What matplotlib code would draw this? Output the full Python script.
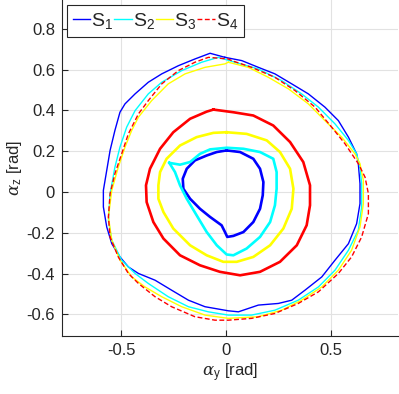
import numpy as np
from matplotlib import pyplot as plt

# ---- datos (alpha_y, alpha_z en rad) ----
# curvas externas
s1_ext_x = [-0.005, -0.076, -0.148, -0.227, -0.306, -0.37, -0.433, -0.481, -0.505, -0.529, -0.552, -0.568, -0.584,
            -0.584, -0.568, -0.544, -0.505, -0.465, -0.417, -0.338, -0.259, -0.179, -0.1, 0.011, 0.059, 0.154,
            0.249, 0.313, 0.376, 0.456, 0.519, 0.583, 0.622, 0.638, 0.638, 0.630, 0.622, 0.583, 0.535, 0.471,
            0.392, 0.313, 0.233, 0.154, 0.075, -0.005]
s1_ext_y = [0.66, 0.680, 0.652, 0.619, 0.579, 0.538, 0.481, 0.432, 0.391, 0.302, 0.204, 0.106, 0.008,
            -0.073, -0.171, -0.253, -0.318, -0.367, -0.399, -0.432, -0.481, -0.530, -0.562, -0.582, -0.587, -0.554,
            -0.546, -0.530, -0.481, -0.416, -0.334, -0.253, -0.155, -0.057, 0.041, 0.139, 0.187, 0.269, 0.350, 0.416,
            0.481, 0.530, 0.579, 0.611, 0.644, 0.66]

s2_ext_x = [0.043, -0.037, -0.116, -0.211, -0.306, -0.37, -0.433, -0.473, -0.505, -0.529, -0.552, -0.560, -0.544,
            -0.497, -0.433, -0.37, -0.275, -0.179, -0.084, 0.011, 0.122, 0.233, 0.344, 0.44, 0.519, 0.583, 0.63,
            0.646, 0.646, 0.638, 0.622, 0.583, 0.519, 0.44, 0.36, 0.265, 0.154, 0.043]
s2_ext_y = [0.636, 0.66, 0.636, 0.595, 0.538, 0.481, 0.399, 0.318, 0.22, 0.122, -0.008, -0.139, -0.236,
            -0.334, -0.399, -0.448, -0.513, -0.562, -0.587, -0.603, -0.603, -0.579, -0.530, -0.465, -0.383, -0.285,
            -0.187, -0.073, 0.041, 0.122, 0.187, 0.253, 0.334, 0.416, 0.481, 0.546, 0.603, 0.636]

s3_ext_x = [0.011, -0.005, -0.1, -0.195, -0.275, -0.354, -0.417, -0.449, -0.481, -0.513, -0.544, -0.560, -0.544,
            -0.505, -0.449, -0.386, -0.306, -0.211, -0.1, 0.011, 0.154, 0.265, 0.36, 0.456, 0.535, 0.598, 0.638,
            0.654, 0.654, 0.638, 0.614, 0.551, 0.471, 0.392, 0.298, 0.202, 0.106, 0.011]
s3_ext_y = [0.636, 0.628, 0.611, 0.579, 0.530, 0.448, 0.367, 0.302, 0.22, 0.122, 0.008, -0.122, -0.236,
            -0.334, -0.416, -0.465, -0.513, -0.562, -0.603, -0.619, -0.611, -0.579, -0.530, -0.465, -0.383, -0.285,
            -0.171, -0.057, 0.057, 0.139, 0.187, 0.269, 0.350, 0.432, 0.505, 0.562, 0.611, 0.636]

s4_ext_x = [0.027, 0.011, -0.084, -0.148, -0.227, -0.306, -0.37, -0.417, -0.465, -0.497, -0.529, -0.552, -0.560,
            -0.552, -0.513, -0.465, -0.417, -0.338, -0.259, -0.148, -0.052, 0.011, 0.122, 0.233, 0.344, 0.44,
            0.535, 0.598, 0.646, 0.678, 0.678, 0.662, 0.630, 0.567, 0.503, 0.424, 0.329, 0.233, 0.122, 0.027]
s4_ext_y = [0.644, 0.652, 0.66, 0.636, 0.595, 0.530, 0.448, 0.383, 0.285, 0.187, 0.09, -0.008, -0.122,
            -0.220, -0.318, -0.399, -0.448, -0.513, -0.562, -0.611, -0.628, -0.628, -0.619, -0.595, -0.546, -0.489,
            -0.399, -0.318, -0.220, -0.106, -0.008, 0.073, 0.139, 0.236, 0.318, 0.416, 0.497, 0.562, 0.611, 0.644]

# curvas internas
s1_int_x = [0.003, 0.067, 0.13, 0.162, 0.178, 0.175, 0.162, 0.13, 0.083, 0.035, 0.006, -0.005, -0.021, -0.076,
            -0.124, -0.171, -0.203, -0.206, -0.187, -0.148, -0.092, -0.044, 0.003]
s1_int_y = [0.204, 0.196, 0.163, 0.114, 0.049, -0.016, -0.082, -0.147, -0.196, -0.215, -0.220, -0.196, -0.163,
            -0.122, -0.082, -0.033, 0.016, 0.065, 0.114, 0.155, 0.179, 0.196, 0.204]

s2_int_x = [-0.27, -0.219, -0.171, -0.124, -0.076, 0.003, 0.083, 0.162, 0.225, 0.241, 0.241, 0.233, 0.21, 0.162,
            0.098, 0.035, 0.003, -0.044, -0.092, -0.14, -0.187, -0.219, -0.243, -0.27]
s2_int_y = [0.143, 0.134, 0.147, 0.187, 0.209, 0.217, 0.212, 0.196, 0.163, 0.098, 0.016, -0.065, -0.147, -0.220,
            -0.277, -0.310, -0.306, -0.261, -0.196, -0.114, -0.033, 0.033, 0.098, 0.143]

s3_int_x = [0.003, 0.098, 0.194, 0.257, 0.305, 0.321, 0.313, 0.273, 0.21, 0.13, 0.051, -0.013, -0.092, -0.171,
            -0.251, -0.298, -0.322, -0.322, -0.314, -0.283, -0.219, -0.14, -0.06, 0.003]
s3_int_y = [0.293, 0.285, 0.253, 0.196, 0.114, 0.016, -0.082, -0.179, -0.261, -0.318, -0.342, -0.342, -0.310,
            -0.261, -0.179, -0.098, -0.033, 0.033, 0.098, 0.163, 0.228, 0.269, 0.29, 0.293]

s4_int_x = [-0.06, 0.035, 0.13, 0.225, 0.305, 0.368, 0.40, 0.40, 0.384, 0.337, 0.257, 0.162, 0.067, -0.029,
            -0.124, -0.219, -0.298, -0.346, -0.378, -0.381, -0.362, -0.314, -0.251, -0.171, -0.092, -0.06]
s4_int_y = [0.404, 0.391, 0.375, 0.326, 0.245, 0.147, 0.033, -0.065, -0.163, -0.261, -0.342, -0.391, -0.408,
            -0.391, -0.359, -0.310, -0.228, -0.147, -0.049, 0.033, 0.114, 0.212, 0.293, 0.359, 0.394, 0.404]

etiquetas = ['S$_1$', 'S$_2$', 'S$_3$', 'S$_4$']
colores = ['#0000ff', '#00ffff', '#ffff00', '#ff0000']

plt.rcParams['font.family'] = ['Liberation Sans', 'DejaVu Sans']
plt.rcParams['mathtext.fontset'] = 'custom'
plt.rcParams['mathtext.rm'] = 'Liberation Sans'
plt.rcParams['mathtext.it'] = 'DejaVu Serif:italic'
gris = '#262626'

fig = plt.figure(figsize=(3.99, 3.94), dpi=100)
ax = fig.add_axes([62 / 399, 1 - 335.7 / 394, 336 / 399, 335.7 / 394])

externas = [(s1_ext_x, s1_ext_y), (s2_ext_x, s2_ext_y), (s3_ext_x, s3_ext_y), (s4_ext_x, s4_ext_y)]
internas = [(s1_int_x, s1_int_y), (s2_int_x, s2_int_y), (s3_int_x, s3_int_y), (s4_int_x, s4_int_y)]

for i in range(4):
    estilo = (0, (3.5, 1.8)) if i == 3 else '-'
    ax.plot(externas[i][0], externas[i][1], color=colores[i], lw=1.0, ls=estilo, label=etiquetas[i])
    ax.plot(internas[i][0], internas[i][1], color=colores[i], lw=1.9)

ax.set_xlim(-0.781, 0.819)
ax.set_ylim(-0.704, 0.941)
ax.set_xticks([-0.5, 0, 0.5])
ax.set_xticklabels(['-0.5', '0', '0.5'])
ax.set_yticks(np.arange(-0.6, 0.81, 0.2))
ax.set_yticklabels(['-0.6', '-0.4', '-0.2', '0', '0.2', '0.4', '0.6', '0.8'])
ax.tick_params(direction='in', length=4, width=0.8, colors=gris, labelsize=12, pad=5)
ax.grid(color='#e2e2e2', lw=0.8)
ax.set_axisbelow(True)
for lado in ['top', 'right']:
    ax.spines[lado].set_visible(False)
for lado in ['left', 'bottom']:
    ax.spines[lado].set_color(gris)
    ax.spines[lado].set_linewidth(0.8)

ax.set_xlabel(r'$\alpha_{\rm y}$ [rad]', fontsize=12, color=gris, labelpad=3)
ax.set_ylabel(r'$\alpha_{\rm z}$ [rad]', fontsize=12, color=gris, labelpad=2)

leg = ax.legend(loc='upper left', bbox_to_anchor=(0.014, 0.985), borderaxespad=0, ncol=4,
                fontsize=14, handlelength=0.9, handletextpad=0.05, columnspacing=0.05,
                borderpad=0.3, fancybox=False, framealpha=1)
leg.get_frame().set_edgecolor(gris)
leg.get_frame().set_linewidth(0.8)
for t in leg.get_texts():
    t.set_color(gris)

plt.savefig('out.png', dpi=100)
